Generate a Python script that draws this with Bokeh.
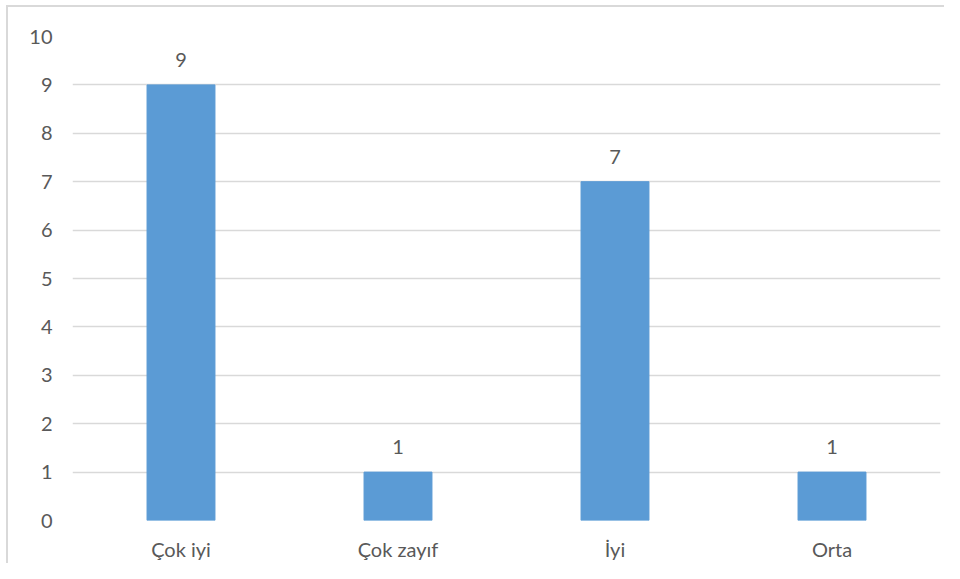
from bokeh.plotting import figure
from bokeh.models import ColumnDataSource, LabelSet, FixedTicker
from bokeh.core.properties import value
from bokeh.embed import file_html
from bokeh.resources import INLINE

categories = ["Çok iyi", "Çok zayıf", "İyi", "Orta"]
counts = [9, 1, 7, 1]
y_ticks = [0, 1, 2, 3, 4, 5, 6, 7, 8, 9, 10]

FONT = "Lato"
TXT = "#595959"
GRID = "#d9d9d9"
BAR = "#5b9bd5"

src = ColumnDataSource(dict(cat=categories, val=counts, lab=[str(v) for v in counts]))

p = figure(x_range=categories, y_range=(0, 10), width=944, height=563,
           output_backend="svg", toolbar_location=None,
           min_border_left=72, min_border_right=4, min_border_top=36, min_border_bottom=40)
p.vbar(x="cat", top="val", width=0.313, source=src, fill_color=BAR, line_color=BAR)

labels = LabelSet(x="cat", y="val", text="lab", source=src, text_align="center",
                  text_baseline="bottom", y_offset=18, text_font=value(FONT),
                  text_font_size="20px", text_color=TXT)
p.add_layout(labels)

p.outline_line_color = None
p.border_fill_color = None
p.background_fill_color = "white"
p.xgrid.grid_line_color = None
p.ygrid.grid_line_color = GRID
p.ygrid.grid_line_width = 1.5
p.yaxis.ticker = FixedTicker(ticks=y_ticks)

for ax in (p.xaxis, p.yaxis):
    ax.axis_line_color = None
    ax.major_tick_line_color = None
    ax.minor_tick_line_color = None
    ax.major_tick_out = 0
    ax.major_tick_in = 0
    ax.major_label_text_font = FONT
    ax.major_label_text_font_size = "20px"
    ax.major_label_text_color = TXT
p.yaxis.major_label_standoff = 20
p.xaxis.major_label_standoff = 16

p.styles = {"background": "linear-gradient(#d9d9d9,#d9d9d9) 6px 5px / 100% 2px no-repeat, "
                          "linear-gradient(#d9d9d9,#d9d9d9) 6px 5px / 2px 100% no-repeat, white"}

open("out.html", "w").write(file_html(p, INLINE))
